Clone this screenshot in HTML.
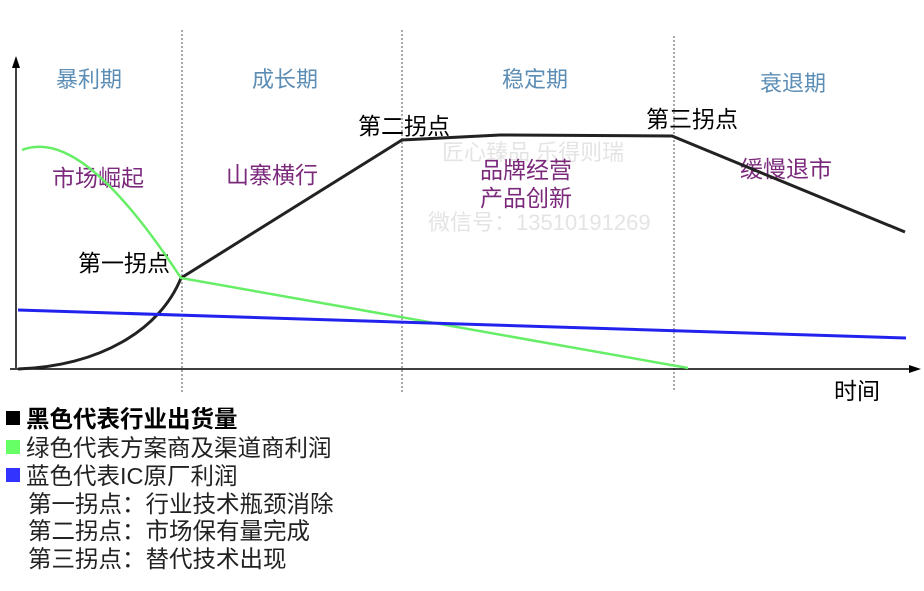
<!DOCTYPE html>
<html><head><meta charset="utf-8"><style>
body{margin:0;background:#fff;width:924px;height:586px;overflow:hidden}
svg text{font-family:"Liberation Sans","Noto Sans CJK SC",sans-serif}
</style></head><body>
<svg width="924" height="586" viewBox="0 0 924 586" xmlns="http://www.w3.org/2000/svg">
<g stroke="#555" stroke-width="1" stroke-dasharray="2,2">
<line x1="182" y1="30" x2="182" y2="392"/>
<line x1="402" y1="30" x2="402" y2="392"/>
<line x1="674" y1="36" x2="674" y2="392"/>
</g>
<line x1="16" y1="368" x2="16" y2="64" stroke="#000" stroke-width="1.5"/>
<polygon points="16,56 12,68 20,68" fill="#000"/>
<line x1="10" y1="369" x2="912" y2="369" stroke="#000" stroke-width="1.5"/>
<polygon points="921,369 909,365 909,373" fill="#000"/>
<g font-size="22" fill="#5b8db5">
<text x="56" y="87">暴利期</text>
<text x="252" y="87">成长期</text>
<text x="502" y="87">稳定期</text>
<text x="760" y="91">衰退期</text>
</g>
<g font-size="22" fill="#e4e4e4">
<text x="442" y="160">匠心臻品 乐得则瑞</text>
<text x="428" y="230">微信号：13510191269</text>
</g>
<g font-size="23" fill="#7b2a7b">
<text x="52" y="186">市场崛起</text>
<text x="226" y="183">山寨横行</text>
<text x="480" y="178">品牌经营</text>
<text x="480" y="206">产品创新</text>
<text x="740" y="177">缓慢退市</text>
</g>
<g font-size="23" fill="#000">
<text x="78" y="271">第一拐点</text>
<text x="358" y="134">第二拐点</text>
<text x="646" y="127">第三拐点</text>
<text x="834" y="399">时间</text>
</g>
<path d="M18,369 C100,366 160,330 181,278 L402,140 L500,135 L672,136 L905,232" fill="none" stroke="#222" stroke-width="3"/>
<path d="M22,150 C60,135 110,170 181,278 L688,368" fill="none" stroke="#66ee66" stroke-width="2.5"/>
<line x1="18" y1="310" x2="906" y2="338" stroke="#2222ee" stroke-width="3"/>
<g font-size="23.5">
<rect x="6" y="411" width="14" height="14" fill="#000"/>
<text x="26" y="427" font-weight="bold" fill="#000">黑色代表行业出货量</text>
<rect x="6" y="440" width="14" height="14" fill="#6f6"/>
<text x="26" y="456" fill="#222">绿色代表方案商及渠道商利润</text>
<rect x="6" y="468" width="14" height="14" fill="#33f"/>
<text x="26" y="484" fill="#222">蓝色代表IC原厂利润</text>
<text x="28" y="512" fill="#222">第一拐点：行业技术瓶颈消除</text>
<text x="28" y="539" fill="#222">第二拐点：市场保有量完成</text>
<text x="28" y="567" fill="#222">第三拐点：替代技术出现</text>
</g>
</svg>
</body></html>
